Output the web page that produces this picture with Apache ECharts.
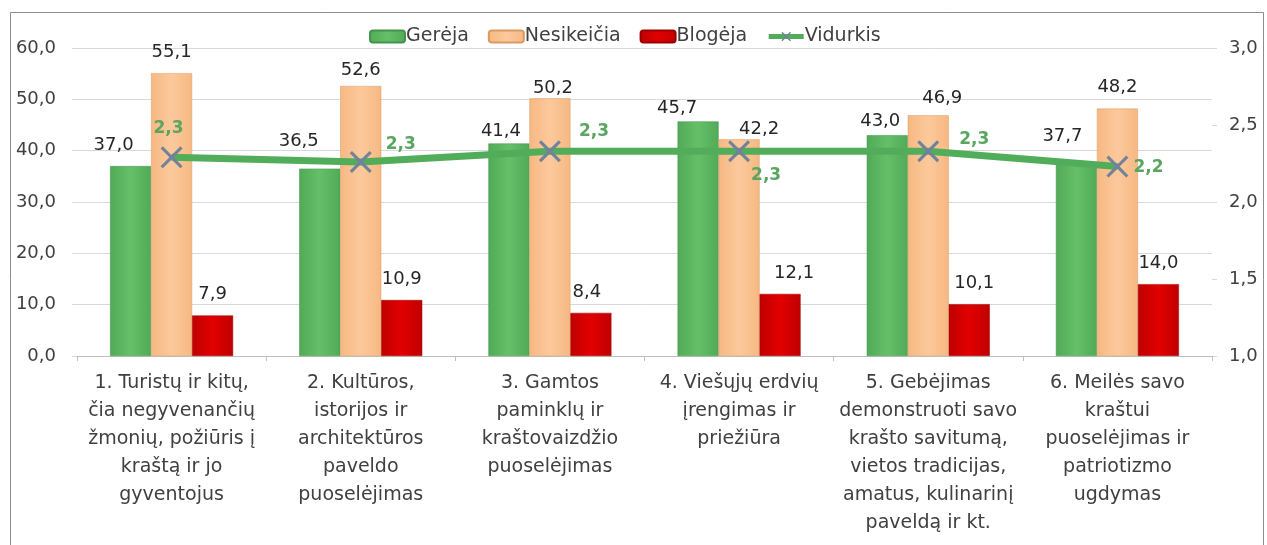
<!DOCTYPE html>
<html>
<head>
<meta charset="utf-8">
<script src="https://cdn.jsdelivr.net/npm/echarts@6/dist/echarts.min.js"></script>
<style>
	html, body { margin: 0; padding: 0; background: #fff; }
	#chart { width: 1267px; height: 545px; }
</style>
</head>
<body>
<div id="chart"></div>
<script>
var categories = [
	'1. Turistų ir kitų,\nčia negyvenančių\nžmonių, požiūris į\nkraštą ir jo\ngyventojus',
	'2. Kultūros,\nistorijos ir\narchitektūros\npaveldo\npuoselėjimas',
	'3. Gamtos\npaminklų ir\nkraštovaizdžio\npuoselėjimas',
	'4. Viešųjų erdvių\nįrengimas ir\npriežiūra',
	'5. Gebėjimas\ndemonstruoti savo\nkrašto savitumą,\nvietos tradicijas,\namatus, kulinarinį\npaveldą ir kt.',
	'6. Meilės savo\nkraštui\npuoselėjimas ir\npatriotizmo\nugdymas'
];
var gereja = [37.0, 36.5, 41.4, 45.7, 43.0, 37.7];
var nesikeicia = [55.1, 52.6, 50.2, 42.2, 46.9, 48.2];
var blogeja = [7.9, 10.9, 8.4, 12.1, 10.1, 14.0];
var vidurkis = [2.29, 2.26, 2.33, 2.33, 2.33, 2.23];

// label nudges (the source chart had some labels moved by hand)
var greenNudge = [[-17, 0], [-21, -6], [-8, 9], [-21, 8], [-7, 7], [-14, -5]];
var orangeNudge = [[0, 0], [0, 5], [3, 11], [20, 11], [14, 4], [0, 0]];
var redNudge = [[0, 0], [0, 0], [-4, 0], [14, 0], [5, 0], [0, 0]];
var lineLabelPos = ['top', 'right', 'right', 'right', 'right', 'right'];
var lineNudge = [[-3, -4], [9, -17], [13, -20], [-4, 24], [15, -12], [0, 1]];

var font = '"DejaVu Sans", sans-serif';
function comma(v){ return v.toFixed(1).replace('.', ','); }
function hGrad(edge, mid){
	return new echarts.graphic.LinearGradient(0, 0, 1, 0, [
		{offset: 0, color: edge}, {offset: 0.5, color: mid}, {offset: 1, color: edge}
	]);
}
function barData(values, nudge){
	return values.map(function(v, i){
		return {value: v, label: {offset: nudge[i]}};
	});
}

var chart = echarts.init(document.getElementById('chart'));

var barLabel = {
	show: true,
	position: 'top',
	distance: 12,
	color: '#262626',
	fontFamily: font,
	fontSize: 18,
	formatter: function(p){ return comma(p.value); }
};

var option = {
	animation: false,
	textStyle: {fontFamily: font},
	graphic: [{
		type: 'rect',
		shape: {x: 10.5, y: 12.5, width: 1253, height: 600},
		style: {fill: 'none', stroke: '#8c8c8c', lineWidth: 1},
		silent: true
	}],
	legend: {
		top: 22,
		left: 364,
		itemWidth: 35,
		itemHeight: 12,
		itemGap: 19,
		textStyle: {fontFamily: font, fontSize: 19, color: '#404040', padding: [0, 0, 0, -4]},
		data: ['Gerėja', 'Nesikeičia', 'Blogėja', {name: 'Vidurkis', lineStyle: {width: 5}}]
	},
	grid: {left: 77, right: 55, top: 48, bottom: 189},
	xAxis: {
		type: 'category',
		data: categories,
		axisLine: {lineStyle: {color: '#bfbfbf'}},
		axisTick: {show: true, length: 5, lineStyle: {color: '#bfbfbf'}},
		axisLabel: {
			interval: 0,
			margin: 13,
			color: '#404040',
			fontFamily: font,
			fontSize: 19,
			lineHeight: 28,
			align: 'center'
		}
	},
	yAxis: [{
		type: 'value',
		min: 0, max: 60, interval: 10,
		axisLine: {show: false},
		axisTick: {show: true, length: 5, lineStyle: {color: '#d9d9d9'}},
		splitLine: {lineStyle: {color: '#d9d9d9'}},
		axisLabel: {margin: 21, color: '#404040', fontFamily: font, fontSize: 18, formatter: comma}
	}, {
		type: 'value',
		min: 1, max: 3, interval: 0.5,
		axisLine: {show: false},
		axisTick: {show: true, length: 5, lineStyle: {color: '#d9d9d9'}},
		splitLine: {show: false},
		axisLabel: {margin: 17, color: '#404040', fontFamily: font, fontSize: 18, formatter: comma}
	}],
	series: [{
		name: 'Gerėja',
		type: 'bar',
		barWidth: 41,
		barGap: '0%',
		itemStyle: {color: hGrad('#52aa57', '#64c068'), borderColor: '#43944a', borderWidth: 0.5},
		label: barLabel,
		data: barData(gereja, greenNudge),
		z: 2
	}, {
		name: 'Nesikeičia',
		type: 'bar',
		barWidth: 41,
		barGap: '0%',
		itemStyle: {color: hGrad('#f6b882', '#fcc99c'), borderColor: '#d99a62', borderWidth: 0.5},
		label: barLabel,
		data: barData(nesikeicia, orangeNudge),
		z: 2
	}, {
		name: 'Blogėja',
		type: 'bar',
		barWidth: 41,
		barGap: '0%',
		itemStyle: {color: hGrad('#bf0000', '#e20000'), borderColor: '#9a0000', borderWidth: 0.5},
		label: barLabel,
		data: barData(blogeja, redNudge),
		z: 2
	}, {
		name: 'Vidurkis',
		type: 'line',
		yAxisIndex: 1,
		symbol: 'path://M0,1 L1,0 L5,4 L9,0 L10,1 L6,5 L10,9 L9,10 L5,6 L1,10 L0,9 L4,5 Z',
		symbolSize: 22,
		itemStyle: {color: '#72829a'},
		lineStyle: {color: '#52ad5a', width: 7},
		label: {
			show: true,
			color: '#5aa560',
			fontWeight: 'bold',
			fontFamily: font,
			fontSize: 17,
			formatter: function(p){ return comma(p.value); }
		},
		data: vidurkis.map(function(v, i){
			return {value: v, label: {position: lineLabelPos[i], offset: lineNudge[i]}};
		}),
		z: 5
	}]
};
chart.setOption(option);
</script>
</body>
</html>
